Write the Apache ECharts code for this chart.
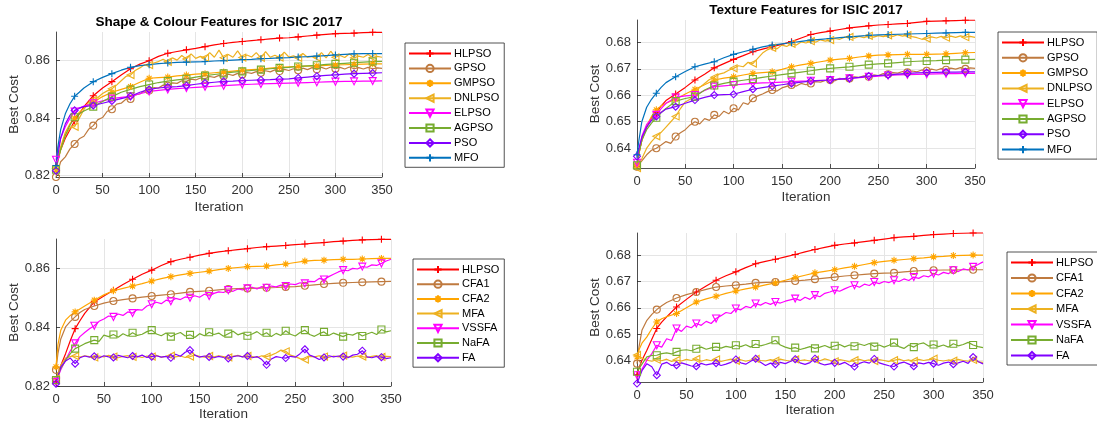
<!DOCTYPE html>
<html>
<head>
<meta charset="utf-8">
<script src="https://cdn.jsdelivr.net/npm/echarts@6/dist/echarts.min.js"></script>
<style>html,body{margin:0;padding:0;background:#fff}#c{width:1097px;height:427px}</style>
</head>
<body>
<div id="c"></div>
<script>
// ---------- iterations ----------
const itersSmooth = [0,2,5,10,15,20,25,30,40,50,60,70,80,90,100,110,120,130,140,150,160,170,180,190,200,210,220,230,240,250,260,270,280,290,300,310,320,330,340,350];
const itersNoisy = [0,5,10,15,20,25,30,35,40,45,50,55,60,65,70,75,80,85,90,95,100,105,110,115,120,125,130,135,140,145,150,155,160,165,170,175,180,185,190,195,200,205,210,215,220,225,230,235,240,245,250,255,260,265,270,275,280,285,290,295,300,305,310,315,320,325,330,335,340,345,350];

// ---------- titles, labels ----------
const titleShape = 'Shape & Colour Features for ISIC 2017';
const titleTexture = 'Texture Features for ISIC 2017';
const xTicks = [0,50,100,150,200,250,300,350];
const yTicksShape = [0.82,0.84,0.86];
const yTicksTexture = [0.64,0.65,0.66,0.67,0.68];
const namesPSO = ['HLPSO','GPSO','GMPSO','DNLPSO','ELPSO','AGPSO','PSO','MFO'];
const namesFA = ['HLPSO','CFA1','CFA2','MFA','VSSFA','NaFA','FA'];

// ---------- Shape & Colour, PSO variants ----------
const HLPSO_SC = [0.8235,0.826,0.829,0.833,0.836,0.839,0.8415,0.844,0.8478,0.8505,0.8527,0.855,0.8572,0.8588,0.8600,0.8615,0.8626,0.8632,0.8638,0.8643,0.8649,0.8655,0.866,0.8664,0.8667,0.867,0.8673,0.8676,0.8679,0.868,0.8683,0.8686,0.8689,0.8692,0.8694,0.8695,0.8696,0.8698,0.8699,0.8699];
const GPSO_SC = [0.8195,0.8248,0.8265,0.8293,0.8310,0.8328,0.8337,0.8361,0.8374,0.8395,0.8402,0.8424,0.8431,0.8449,0.8452,0.8466,0.8467,0.8481,0.8484,0.8495,0.8496,0.8506,0.8505,0.8515,0.8513,0.8523,0.8521,0.8530,0.8528,0.8536,0.8533,0.8540,0.8537,0.8545,0.8542,0.8549,0.8546,0.8553,0.8549,0.8556,0.8552,0.8559,0.8556,0.8562,0.8558,0.8565,0.8561,0.8568,0.8564,0.8570,0.8566,0.8572,0.8567,0.8574,0.8569,0.8576,0.8570,0.8577,0.8571,0.8578,0.8572,0.8577,0.8571,0.8578,0.8572,0.8576,0.8571,0.8577,0.8572,0.8575,0.8573];
const GMPSO_SC = [0.822,0.826,0.830,0.835,0.838,0.840,0.842,0.8435,0.8455,0.8475,0.849,0.850,0.851,0.8525,0.8539,0.8541,0.8543,0.8547,0.855,0.8553,0.8555,0.8558,0.8561,0.8564,0.8567,0.8569,0.8571,0.8574,0.8577,0.8579,0.858,0.8581,0.8582,0.8584,0.8585,0.8586,0.8587,0.8588,0.8589,0.8589];
const DNLPSO_SC = [0.8225,0.8290,0.8340,0.8365,0.8370,0.8400,0.8430,0.8455,0.8463,0.8472,0.8486,0.8495,0.8502,0.8515,0.8530,0.8545,0.8550,0.8566,0.8575,0.8586,0.8585,0.8592,0.8597,0.8605,0.8596,0.8610,0.8602,0.8618,0.8606,0.8624,0.8608,0.8615,0.8610,0.8628,0.8612,0.8637,0.8610,0.8622,0.8612,0.8634,0.8611,0.8620,0.8613,0.8628,0.8610,0.8632,0.8612,0.8619,0.8611,0.8630,0.8613,0.8617,0.8610,0.8625,0.8612,0.8615,0.8611,0.8628,0.8610,0.8633,0.8612,0.8618,0.8611,0.8624,0.8610,0.8616,0.8612,0.8622,0.8611,0.8615,0.8612];
const ELPSO_SC = [0.8255,0.829,0.833,0.837,0.840,0.8423,0.8435,0.8442,0.8452,0.846,0.8468,0.8472,0.8476,0.8485,0.8493,0.8497,0.85,0.8503,0.8505,0.8507,0.8509,0.8511,0.8513,0.8515,0.8517,0.8518,0.8519,0.852,0.8521,0.8522,0.8523,0.8524,0.8525,0.8526,0.8527,0.8528,0.8528,0.8529,0.8529,0.853];
const AGPSO_SC = [0.822,0.825,0.829,0.834,0.8375,0.8403,0.8415,0.8425,0.844,0.8458,0.8475,0.849,0.850,0.851,0.8517,0.8524,0.8529,0.8533,0.8537,0.8543,0.8548,0.8552,0.8556,0.856,0.8563,0.8566,0.8569,0.8572,0.8575,0.8577,0.858,0.8582,0.8584,0.8587,0.8589,0.8591,0.8593,0.8595,0.8597,0.8598];
const PSO_SC = [0.8217,0.827,0.833,0.838,0.841,0.8427,0.8435,0.844,0.8444,0.8452,0.846,0.8468,0.8476,0.849,0.850,0.8505,0.8508,0.851,0.8513,0.8518,0.8522,0.8525,0.8528,0.8529,0.8531,0.8532,0.8533,0.8534,0.8536,0.8537,0.854,0.8543,0.8546,0.8549,0.8551,0.8553,0.8555,0.8556,0.8557,0.8558];
const MFO_SC = [0.8235,0.830,0.836,0.8415,0.845,0.8476,0.849,0.8505,0.8527,0.8542,0.8555,0.8567,0.8577,0.8583,0.8586,0.859,0.8592,0.8594,0.8595,0.8596,0.8597,0.8599,0.86,0.8602,0.8604,0.8605,0.8607,0.8608,0.861,0.8611,0.8613,0.8614,0.8616,0.8618,0.862,0.8622,0.8624,0.8625,0.8625,0.8625];

// ---------- Texture, PSO variants ----------
const HLPSO_TX = [0.633,0.638,0.643,0.648,0.6515,0.6535,0.656,0.658,0.6605,0.663,0.6658,0.668,0.6704,0.672,0.6736,0.675,0.6765,0.6775,0.6784,0.6793,0.6803,0.6817,0.683,0.6837,0.6843,0.6849,0.6855,0.6859,0.6863,0.6866,0.6868,0.687,0.6872,0.6876,0.688,0.6881,0.6882,0.6883,0.6884,0.6884];
const GPSO_TX = [0.6330,0.6352,0.6375,0.6392,0.6400,0.6412,0.6425,0.6418,0.6444,0.6458,0.6470,0.6488,0.6500,0.6492,0.6512,0.6505,0.6526,0.6520,0.6540,0.6530,0.6551,0.6545,0.6572,0.6566,0.6589,0.6598,0.6605,0.6614,0.6620,0.6616,0.6628,0.6634,0.6639,0.6635,0.6645,0.6640,0.6645,0.6652,0.6650,0.6656,0.6658,0.6655,0.6664,0.6660,0.6664,0.6670,0.6668,0.6674,0.6670,0.6677,0.6675,0.6682,0.6680,0.6686,0.6684,0.6690,0.6687,0.6692,0.6689,0.6696,0.6693,0.6699,0.6695,0.6701,0.6697,0.6703,0.6699,0.6705,0.6700,0.6704,0.6702];
const GMPSO_TX = [0.6335,0.638,0.643,0.6485,0.652,0.6545,0.656,0.657,0.6585,0.6605,0.6623,0.664,0.6658,0.6665,0.667,0.6677,0.6683,0.6686,0.6689,0.6698,0.6708,0.6715,0.6721,0.6727,0.6733,0.6737,0.674,0.6745,0.6749,0.6752,0.6753,0.6754,0.6755,0.6755,0.6755,0.6756,0.6757,0.6759,0.6761,0.6762];
const DNLPSO_TX = [0.6325,0.636,0.640,0.6425,0.6445,0.646,0.648,0.650,0.652,0.655,0.6575,0.6585,0.661,0.663,0.6645,0.666,0.6668,0.668,0.6685,0.6695,0.6702,0.6712,0.6708,0.6725,0.672,0.674,0.676,0.6772,0.678,0.6776,0.679,0.6785,0.6795,0.679,0.6802,0.6798,0.6805,0.6801,0.681,0.6805,0.6809,0.6815,0.6812,0.682,0.6821,0.6816,0.6823,0.6818,0.6825,0.682,0.6826,0.6822,0.6827,0.6823,0.6829,0.6824,0.6828,0.6822,0.6818,0.6812,0.6815,0.6821,0.6817,0.6823,0.6818,0.6824,0.6819,0.6825,0.682,0.6823,0.6819];
const ELPSO_TX = [0.6345,0.639,0.6445,0.649,0.651,0.6526,0.655,0.657,0.6592,0.6598,0.6601,0.6618,0.6633,0.6636,0.6639,0.6642,0.6645,0.6647,0.6648,0.665,0.6652,0.6654,0.6655,0.6657,0.6658,0.6661,0.6664,0.6667,0.667,0.6673,0.6675,0.6677,0.6678,0.6679,0.668,0.6681,0.6682,0.6682,0.6683,0.6683];
const AGPSO_TX = [0.6335,0.638,0.643,0.647,0.6495,0.6515,0.6535,0.655,0.6578,0.6588,0.6595,0.662,0.6637,0.6645,0.6652,0.6657,0.6662,0.6668,0.6673,0.6678,0.6683,0.6688,0.6693,0.6698,0.6702,0.6705,0.6708,0.6712,0.6716,0.6719,0.6721,0.6724,0.6727,0.6729,0.673,0.6731,0.6733,0.6734,0.6735,0.6736];
const PSO_TX = [0.6369,0.640,0.644,0.648,0.6505,0.652,0.6535,0.6548,0.6557,0.657,0.6582,0.6592,0.6601,0.6603,0.6604,0.6614,0.6623,0.6629,0.6635,0.664,0.6645,0.665,0.6654,0.6656,0.6658,0.6661,0.6664,0.6668,0.6673,0.6675,0.6677,0.668,0.6683,0.6685,0.6686,0.6687,0.6688,0.6688,0.6689,0.6689];
const MFO_TX = [0.6375,0.643,0.650,0.6555,0.6585,0.6608,0.663,0.6648,0.667,0.669,0.6708,0.6718,0.6727,0.6742,0.6755,0.6765,0.6774,0.6783,0.679,0.6795,0.6799,0.6804,0.6809,0.6812,0.6815,0.6818,0.6821,0.6824,0.6827,0.6829,0.683,0.6831,0.6832,0.6833,0.6834,0.6835,0.6836,0.6837,0.6838,0.6838];

// ---------- Shape & Colour, FA variants ----------
const HLPSO_SF = [0.8215,0.824,0.827,0.831,0.8355,0.8395,0.8422,0.8447,0.8486,0.8506,0.8526,0.8545,0.8563,0.858,0.8594,0.861,0.8623,0.8631,0.8638,0.8645,0.8651,0.8656,0.866,0.8664,0.8667,0.8671,0.8674,0.8676,0.8678,0.8681,0.8683,0.8686,0.8688,0.8691,0.8693,0.8695,0.8697,0.8698,0.8699,0.8699];
const CFA1_SF = [0.8255,0.831,0.836,0.8401,0.842,0.8435,0.845,0.846,0.8472,0.8482,0.8489,0.8494,0.8498,0.8502,0.8506,0.8509,0.8512,0.8516,0.852,0.8522,0.8524,0.8527,0.853,0.8531,0.8532,0.8533,0.8534,0.8535,0.8537,0.8538,0.8541,0.8544,0.8547,0.8549,0.8551,0.8552,0.8553,0.8554,0.8555,0.8556];
const CFA2_SF = [0.8265,0.834,0.839,0.8424,0.844,0.8452,0.8462,0.8472,0.8492,0.851,0.8524,0.8532,0.854,0.8548,0.8557,0.8565,0.8572,0.8578,0.8583,0.8587,0.8591,0.8596,0.86,0.8603,0.8606,0.8607,0.8608,0.8612,0.8615,0.862,0.8625,0.8627,0.8628,0.863,0.8631,0.8631,0.8632,0.8633,0.8634,0.8634];
const MFA_SF = [0.8225,0.8270,0.8295,0.8300,0.8302,0.8298,0.8303,0.8300,0.8297,0.8302,0.8299,0.8304,0.8300,0.8296,0.8301,0.8303,0.8299,0.8301,0.8297,0.8302,0.8300,0.8304,0.8298,0.8301,0.8303,0.8299,0.8302,0.8297,0.8300,0.8305,0.8301,0.8298,0.8302,0.8299,0.8303,0.8300,0.8297,0.8301,0.8304,0.8299,0.8302,0.8300,0.8297,0.8303,0.8300,0.8305,0.8312,0.8322,0.8318,0.8305,0.8300,0.8293,0.8290,0.8301,0.8299,0.8303,0.8300,0.8297,0.8302,0.8299,0.8303,0.8300,0.8298,0.8302,0.8300,0.8297,0.8301,0.8303,0.8299,0.8301,0.8300];
const VSSFA_SF = [0.8214,0.8255,0.8288,0.8320,0.8345,0.8368,0.8382,0.8395,0.8405,0.8420,0.8428,0.8438,0.8435,0.8445,0.8440,0.8452,0.8448,0.8460,0.8458,0.8472,0.8478,0.8485,0.8480,0.8492,0.8488,0.8498,0.8494,0.8503,0.8500,0.8507,0.8502,0.8512,0.8506,0.8515,0.8520,0.8518,0.8526,0.8522,0.8530,0.8527,0.8532,0.8536,0.8530,0.8538,0.8534,0.8540,0.8537,0.8543,0.8540,0.8547,0.8545,0.8551,0.8549,0.8556,0.8555,0.8566,0.8562,0.8572,0.8580,0.8588,0.8594,0.8592,0.8600,0.8598,0.8606,0.8604,0.8612,0.8610,0.8617,0.8625,0.8631];
const NaFA_SF = [0.8220,0.8260,0.8288,0.8310,0.8327,0.8335,0.8344,0.8350,0.8356,0.8352,0.8373,0.8368,0.8375,0.8366,0.8378,0.8370,0.8381,0.8372,0.8376,0.8385,0.8390,0.8377,0.8371,0.8380,0.8368,0.8376,0.8382,0.8370,0.8374,0.8365,0.8378,0.8371,0.8383,0.8375,0.8380,0.8369,0.8378,0.8386,0.8374,0.8380,0.8371,0.8377,0.8385,0.8373,0.8381,0.8368,0.8379,0.8372,0.8388,0.8376,0.8370,0.8382,0.8390,0.8375,0.8369,0.8378,0.8384,0.8372,0.8380,0.8374,0.8368,0.8376,0.8373,0.8381,0.8370,0.8377,0.8383,0.8375,0.8392,0.8384,0.8388];
const FA_SF = [0.8208,0.8265,0.8285,0.8295,0.8276,0.8296,0.8302,0.8298,0.8301,0.8295,0.8303,0.8299,0.8297,0.8304,0.8300,0.8296,0.8302,0.8299,0.8305,0.8297,0.8300,0.8303,0.8298,0.8301,0.8296,0.8308,0.8301,0.8315,0.8322,0.8305,0.8298,0.8302,0.8299,0.8296,0.8301,0.8297,0.8294,0.8300,0.8303,0.8299,0.8302,0.8296,0.8300,0.8290,0.8272,0.8292,0.8300,0.8297,0.8295,0.8301,0.8298,0.8310,0.8325,0.8305,0.8299,0.8290,0.8297,0.8303,0.8299,0.8302,0.8300,0.8296,0.8305,0.8308,0.8320,0.8299,0.8296,0.8301,0.8298,0.8293,0.8296];

// ---------- Texture, FA variants ----------
const HLPSO_TF = [0.6345,0.637,0.640,0.6438,0.648,0.6521,0.6545,0.6565,0.6603,0.6632,0.666,0.6683,0.6705,0.6722,0.6737,0.6753,0.6768,0.6777,0.6785,0.6794,0.6803,0.6813,0.6822,0.683,0.6838,0.6843,0.6847,0.6852,0.6857,0.6862,0.6867,0.687,0.6872,0.6876,0.6879,0.6881,0.6883,0.6884,0.6885,0.6885];
const CFA1_TF = [0.6387,0.645,0.6514,0.6552,0.6575,0.6593,0.6608,0.662,0.6637,0.665,0.666,0.667,0.6679,0.6683,0.6686,0.669,0.6695,0.6697,0.6698,0.67,0.6702,0.6705,0.6709,0.6713,0.6717,0.6721,0.6724,0.6727,0.673,0.6732,0.6733,0.6737,0.674,0.6742,0.6743,0.6744,0.6744,0.6745,0.6745,0.6745];
const CFA2_TF = [0.6413,0.644,0.6465,0.6489,0.652,0.6546,0.6558,0.6566,0.6578,0.66,0.6622,0.6634,0.6644,0.6655,0.6664,0.6672,0.6679,0.6687,0.6695,0.6705,0.6715,0.6724,0.6733,0.6739,0.6745,0.6752,0.6758,0.6765,0.6772,0.6777,0.6781,0.6784,0.6787,0.679,0.6794,0.6796,0.6799,0.68,0.6801,0.6801];
const MFA_TF = [0.6420,0.6408,0.6400,0.6396,0.6402,0.6398,0.6404,0.6395,0.6401,0.6397,0.6403,0.6399,0.6405,0.6396,0.6402,0.6398,0.6403,0.6395,0.6400,0.6404,0.6398,0.6402,0.6396,0.6401,0.6405,0.6399,0.6397,0.6402,0.6398,0.6404,0.6400,0.6396,0.6403,0.6399,0.6401,0.6397,0.6402,0.6398,0.6405,0.6400,0.6396,0.6402,0.6399,0.6394,0.6400,0.6403,0.6398,0.6401,0.6397,0.6402,0.6399,0.6395,0.6400,0.6404,0.6398,0.6401,0.6397,0.6403,0.6399,0.6402,0.6406,0.6400,0.6397,0.6401,0.6398,0.6403,0.6399,0.6396,0.6401,0.6394,0.6392];
const VSSFA_TF = [0.6343,0.6365,0.6400,0.6425,0.6457,0.6450,0.6482,0.6475,0.6521,0.6510,0.6530,0.6524,0.6540,0.6533,0.6548,0.6540,0.6559,0.6570,0.6582,0.6578,0.6597,0.6592,0.6605,0.6600,0.6616,0.6610,0.6620,0.6613,0.6622,0.6618,0.6625,0.6630,0.6635,0.6628,0.6640,0.6632,0.6648,0.6642,0.6655,0.6660,0.6667,0.6663,0.6672,0.6680,0.6686,0.6678,0.6690,0.6685,0.6698,0.6692,0.6700,0.6696,0.6705,0.6700,0.6710,0.6704,0.6717,0.6712,0.6722,0.6718,0.6730,0.6725,0.6735,0.6730,0.6743,0.6738,0.6748,0.6744,0.6756,0.6765,0.6775];
const NaFA_TF = [0.6356,0.6385,0.6413,0.6418,0.6419,0.6425,0.6428,0.6424,0.6432,0.6438,0.6440,0.6436,0.6444,0.6450,0.6442,0.6447,0.6451,0.6446,0.6453,0.6449,0.6457,0.6452,0.6459,0.6450,0.6462,0.6455,0.6460,0.6466,0.6476,0.6458,0.6450,0.6444,0.6448,0.6441,0.6446,0.6452,0.6445,0.6450,0.6456,0.6448,0.6455,0.6460,0.6451,0.6458,0.6453,0.6462,0.6456,0.6464,0.6452,0.6458,0.6450,0.6457,0.6467,0.6452,0.6445,0.6458,0.6450,0.6462,0.6466,0.6454,0.6460,0.6452,0.6458,0.6450,0.6463,0.6455,0.6460,0.6468,0.6458,0.6452,0.6448];
const FA_TF = [0.6311,0.6360,0.6387,0.6375,0.6343,0.6385,0.6392,0.6380,0.6381,0.6390,0.6384,0.6378,0.6377,0.6388,0.6382,0.6386,0.6389,0.6380,0.6385,0.6392,0.6403,0.6390,0.6385,0.6396,0.6406,0.6392,0.6380,0.6389,0.6385,0.6392,0.6387,0.6395,0.6404,0.6390,0.6384,0.6391,0.6406,0.6388,0.6382,0.6386,0.6390,0.6384,0.6392,0.6381,0.6376,0.6388,0.6394,0.6389,0.6405,0.6390,0.6384,0.6379,0.6376,0.6388,0.6393,0.6385,0.6377,0.6390,0.6386,0.6392,0.6387,0.6381,0.6389,0.6393,0.6385,0.6390,0.6396,0.6388,0.6412,0.6395,0.6386];

// ---------- styling ----------
const FONT = 'Liberation Sans, Arial, Helvetica, sans-serif';
const C = {red:'#ff0000', brown:'#bf7a3f', orange:'#ffa500', gold:'#edb120', magenta:'#ff00ff', green:'#77ac30', purple:'#8000ff', blue:'#0072bd'};
const SYM = {
  plus: 'path://M5,0L5,10M0,5L10,5',
  circle: 'path://M10,5A5,5,0,1,1,0,5A5,5,0,1,1,10,5Z',
  star: 'path://M5,0L5,10M0,5L10,5M1.5,1.5L8.5,8.5M8.5,1.5L1.5,8.5',
  tleft: 'path://M0,5L10,0L10,10Z',
  tdown: 'path://M0,0L10,0L5,10Z',
  square: 'path://M0,0L10,0L10,10L0,10Z',
  diamond: 'path://M5,0L10,5L5,10L0,5Z'
};

function mk(name, xs, ys, color, sym, gi) {
  return {
    name: name, type: 'line', xAxisIndex: gi, yAxisIndex: gi,
    data: xs.map((x, i) => [x, ys[i]]),
    symbol: SYM[sym],
    symbolSize: (v) => (v[0] % 20 === 0 ? 7 : 0),
    showSymbol: true, clip: false, animation: false, silent: true,
    lineStyle: {color: color, width: 1.2},
    itemStyle: {color: 'rgba(0,0,0,0)', borderColor: color, borderWidth: 1.1},
    emphasis: {disabled: true}
  };
}

const grids = [
  {left: 56, top: 32, width: 326, height: 145},
  {left: 637, top: 20, width: 338, height: 148},
  {left: 56, top: 239, width: 335, height: 147},
  {left: 637, top: 233, width: 346, height: 149}
];
const yRanges = [[0.8195, 0.8700], [0.6325, 0.6885], [0.8200, 0.8700], [0.6317, 0.6885]];
const yTickSets = [yTicksShape, yTicksTexture, yTicksShape, yTicksTexture];
const xNameGaps = [23, 22, 20, 21];

const axisColor = '#262626';
const xAxes = grids.map((g, i) => ({
  type: 'value', gridIndex: i, min: 0, max: 350, interval: 50,
  name: 'Iteration', nameLocation: 'middle', nameGap: xNameGaps[i],
  nameTextStyle: {fontSize: 13.5, color: '#333', fontFamily: FONT},
  axisLine: {show: true, lineStyle: {color: axisColor, width: 0.8}},
  axisTick: {show: true, inside: true, length: 4, lineStyle: {color: axisColor, width: 0.8}},
  axisLabel: {fontSize: 13, color: '#333', fontFamily: FONT, margin: 7},
  splitLine: {show: true, lineStyle: {color: '#e5e5e5', width: 1}}
}));
const yAxes = grids.map((g, i) => ({
  type: 'value', gridIndex: i, min: yRanges[i][0], max: yRanges[i][1],
  name: 'Best Cost', nameLocation: 'middle', nameGap: 33,
  nameTextStyle: {fontSize: 13.5, color: '#333', fontFamily: FONT},
  axisLine: {show: true, lineStyle: {color: axisColor, width: 0.8}},
  axisTick: {show: true, inside: true, length: 4, customValues: yTickSets[i], lineStyle: {color: axisColor, width: 0.8}},
  axisLabel: {fontSize: 13, color: '#333', fontFamily: FONT, margin: 6, customValues: yTickSets[i],
    formatter: (v) => v.toFixed(2)},
  splitLine: {show: true, lineStyle: {color: '#e5e5e5', width: 1}}
}));

const series = [
  mk(namesPSO[0], itersSmooth, HLPSO_SC, C.red, 'plus', 0),
  mk(namesPSO[1], itersNoisy, GPSO_SC, C.brown, 'circle', 0),
  mk(namesPSO[2], itersSmooth, GMPSO_SC, C.orange, 'star', 0),
  mk(namesPSO[3], itersNoisy, DNLPSO_SC, C.gold, 'tleft', 0),
  mk(namesPSO[4], itersSmooth, ELPSO_SC, C.magenta, 'tdown', 0),
  mk(namesPSO[5], itersSmooth, AGPSO_SC, C.green, 'square', 0),
  mk(namesPSO[6], itersSmooth, PSO_SC, C.purple, 'diamond', 0),
  mk(namesPSO[7], itersSmooth, MFO_SC, C.blue, 'plus', 0),

  mk(namesPSO[0], itersSmooth, HLPSO_TX, C.red, 'plus', 1),
  mk(namesPSO[1], itersNoisy, GPSO_TX, C.brown, 'circle', 1),
  mk(namesPSO[2], itersSmooth, GMPSO_TX, C.orange, 'star', 1),
  mk(namesPSO[3], itersNoisy, DNLPSO_TX, C.gold, 'tleft', 1),
  mk(namesPSO[4], itersSmooth, ELPSO_TX, C.magenta, 'tdown', 1),
  mk(namesPSO[5], itersSmooth, AGPSO_TX, C.green, 'square', 1),
  mk(namesPSO[6], itersSmooth, PSO_TX, C.purple, 'diamond', 1),
  mk(namesPSO[7], itersSmooth, MFO_TX, C.blue, 'plus', 1),

  mk(namesFA[0], itersSmooth, HLPSO_SF, C.red, 'plus', 2),
  mk(namesFA[1], itersSmooth, CFA1_SF, C.brown, 'circle', 2),
  mk(namesFA[2], itersSmooth, CFA2_SF, C.orange, 'star', 2),
  mk(namesFA[3], itersNoisy, MFA_SF, C.gold, 'tleft', 2),
  mk(namesFA[4], itersNoisy, VSSFA_SF, C.magenta, 'tdown', 2),
  mk(namesFA[5], itersNoisy, NaFA_SF, C.green, 'square', 2),
  mk(namesFA[6], itersNoisy, FA_SF, C.purple, 'diamond', 2),

  mk(namesFA[0], itersSmooth, HLPSO_TF, C.red, 'plus', 3),
  mk(namesFA[1], itersSmooth, CFA1_TF, C.brown, 'circle', 3),
  mk(namesFA[2], itersSmooth, CFA2_TF, C.orange, 'star', 3),
  mk(namesFA[3], itersNoisy, MFA_TF, C.gold, 'tleft', 3),
  mk(namesFA[4], itersNoisy, VSSFA_TF, C.magenta, 'tdown', 3),
  mk(namesFA[5], itersNoisy, NaFA_TF, C.green, 'square', 3),
  mk(namesFA[6], itersNoisy, FA_TF, C.purple, 'diamond', 3)
];

function legendAt(names, left, top, gap) {
  return {
    show: true, orient: 'vertical', left: left, top: top,
    itemWidth: 42, itemHeight: 9, itemGap: gap,
    padding: [5, 5, 4, 3],
    backgroundColor: '#fff', borderColor: '#262626', borderWidth: 0.8, borderRadius: 0,
    textStyle: {fontSize: 11, color: '#000', fontFamily: FONT, padding: [0, 0, 0, -2]},
    selectedMode: false,
    data: names
  };
}

const option = {
  backgroundColor: '#fff',
  animation: false,
  grid: grids.map(g => Object.assign({containLabel: false}, g)),
  xAxis: xAxes,
  yAxis: yAxes,
  legend: [
    legendAt(namesPSO, 405, 43, 3.9),
    legendAt(namesPSO, 998, 32, 4.3),
    legendAt(namesFA, 413, 259, 3.7),
    legendAt(namesFA, 1007, 252, 4.5)
  ],
  graphic: [
    {type: 'text', x: 219, y: 22, style: {text: titleShape, fill: '#000', font: 'bold 13.5px ' + FONT, align: 'center', verticalAlign: 'middle'}},
    {type: 'text', x: 806, y: 10, style: {text: titleTexture, fill: '#000', font: 'bold 13.5px ' + FONT, align: 'center', verticalAlign: 'middle'}}
  ],
  series: series
};

const chart = echarts.init(document.getElementById('c'), null, {renderer: 'canvas'});
chart.setOption(option);
</script>
</body>
</html>
